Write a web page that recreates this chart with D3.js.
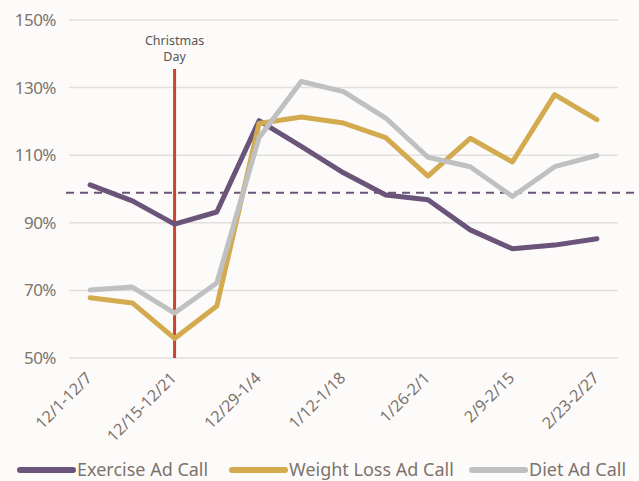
<!DOCTYPE html>
<html>
<head>
<meta charset="utf-8">
<script src="https://cdn.jsdelivr.net/npm/d3@7"></script>
<style>
  body { margin: 0; background: #fcfbfa; }
  #canvas { width: 639px; height: 481px; }
  text { font-family: "Noto Sans", sans-serif; }
</style>
</head>
<body>
<div id="canvas"></div>
<script>
const weeks = ["12/1-12/7", "12/8-12/14", "12/15-12/21", "12/22-12/28", "12/29-1/4", "1/5-1/11",
  "1/12-1/18", "1/19-1/25", "1/26-2/1", "2/2-2/8", "2/9-2/15", "2/16-2/22", "2/23-2/27"];
const shownLabels = ["12/1-12/7", "12/15-12/21", "12/29-1/4", "1/12-1/18", "1/26-2/1", "2/9-2/15", "2/23-2/27"];
const exercise = [101.2, 96.5, 89.6, 93.2, 120.2, 112.6, 104.8, 98.2, 96.8, 87.9, 82.3, 83.4, 85.3];
const weightLoss = [67.8, 66.3, 55.8, 65.4, 119.4, 121.3, 119.5, 115.2, 103.8, 115.0, 108.0, 127.9, 120.5];
const diet = [70.1, 71.0, 63.3, 72.2, 115.2, 131.8, 128.8, 121.0, 109.4, 106.6, 97.8, 106.6, 109.9];
const yTicks = [50, 70, 90, 110, 130, 150];
const baseline = 98.9;
const christmasWeek = "12/15-12/21";

const series = [
  { name: "Exercise Ad Call", values: exercise, color: "#6a5479" },
  { name: "Weight Loss Ad Call", values: weightLoss, color: "#d4aa4f" },
  { name: "Diet Ad Call", values: diet, color: "#bfc0c2" }
];

const width = 639;
const height = 481;
const margin = { top: 20, left: 69, bottom: 123, right: 21 };
const iwidth = width - margin.left - margin.right;
const iheight = height - margin.top - margin.bottom;

const svg = d3.select("#canvas").append("svg")
  .attr("width", width)
  .attr("height", height);
svg.append("rect").attr("width", width).attr("height", height).attr("fill", "#fcfbfa");

const g = svg.append("g").attr("transform", `translate(${margin.left},${margin.top})`);

const x = d3.scalePoint().domain(weeks).range([0, iwidth]).padding(0.5);
const y = d3.scaleLinear().domain([50, 150]).range([iheight, 0]);

// grid lines
g.append("g")
  .selectAll("line")
  .data(yTicks)
  .join("line")
  .attr("x1", 0).attr("x2", iwidth)
  .attr("y1", d => y(d)).attr("y2", d => y(d))
  .attr("stroke", "#e2e0dd")
  .attr("stroke-width", 1.5);

// y labels
g.append("g")
  .selectAll("text")
  .data(yTicks)
  .join("text")
  .attr("x", -13)
  .attr("y", d => y(d))
  .attr("dy", "0.35em")
  .attr("text-anchor", "end")
  .attr("fill", "#7d736d")
  .style("font-size", "17px")
  .style("letter-spacing", "-0.5px")
  .text(d => d + "%");

// x labels
g.append("g")
  .selectAll("text")
  .data(shownLabels)
  .join("text")
  .attr("transform", d => `translate(${x(d) - 1},${iheight + 17}) rotate(-45)`)
  .attr("text-anchor", "end")
  .attr("dy", "0.35em")
  .attr("fill", "#7d736d")
  .style("font-size", "16px")
  .text(d => d);

// baseline dashed
g.append("line")
  .attr("x1", -3).attr("x2", width - margin.left)
  .attr("y1", y(baseline)).attr("y2", y(baseline))
  .attr("stroke", "#6a5479")
  .attr("stroke-width", 2)
  .attr("stroke-dasharray", "8,6");

// christmas line
g.append("line")
  .attr("x1", x(christmasWeek)).attr("x2", x(christmasWeek))
  .attr("y1", y(135.5)).attr("y2", y(50))
  .attr("stroke", "#cc4330")
  .attr("stroke-width", 3);

const note = g.append("text")
  .attr("x", x(christmasWeek))
  .attr("y", 25)
  .attr("text-anchor", "middle")
  .attr("fill", "#555")
  .style("font-size", "12.5px");
note.append("tspan").attr("x", x(christmasWeek)).attr("dy", 0).text("Christmas");
note.append("tspan").attr("x", x(christmasWeek)).attr("dy", 16).text("Day");

const line = d3.line()
  .x((d, i) => x(weeks[i]))
  .y(d => y(d));

g.append("g")
  .selectAll("path")
  .data(series)
  .join("path")
  .attr("d", d => line(d.values))
  .attr("fill", "none")
  .attr("stroke", d => d.color)
  .attr("stroke-width", 5)
  .attr("stroke-linejoin", "round")
  .attr("stroke-linecap", "round");

// legend
const legendX = [20, 232, 472];
const legend = svg.append("g")
  .selectAll("g")
  .data(series)
  .join("g")
  .attr("transform", (d, i) => `translate(${legendX[i]},470)`);
legend.append("line")
  .attr("x1", 0).attr("x2", 53)
  .attr("stroke", d => d.color)
  .attr("stroke-width", 6)
  .attr("stroke-linecap", "round");
legend.append("text")
  .attr("x", 57)
  .attr("dy", "0.35em")
  .attr("fill", "#7d736d")
  .style("font-size", "18px")
  .text(d => d.name);
</script>
</body>
</html>
